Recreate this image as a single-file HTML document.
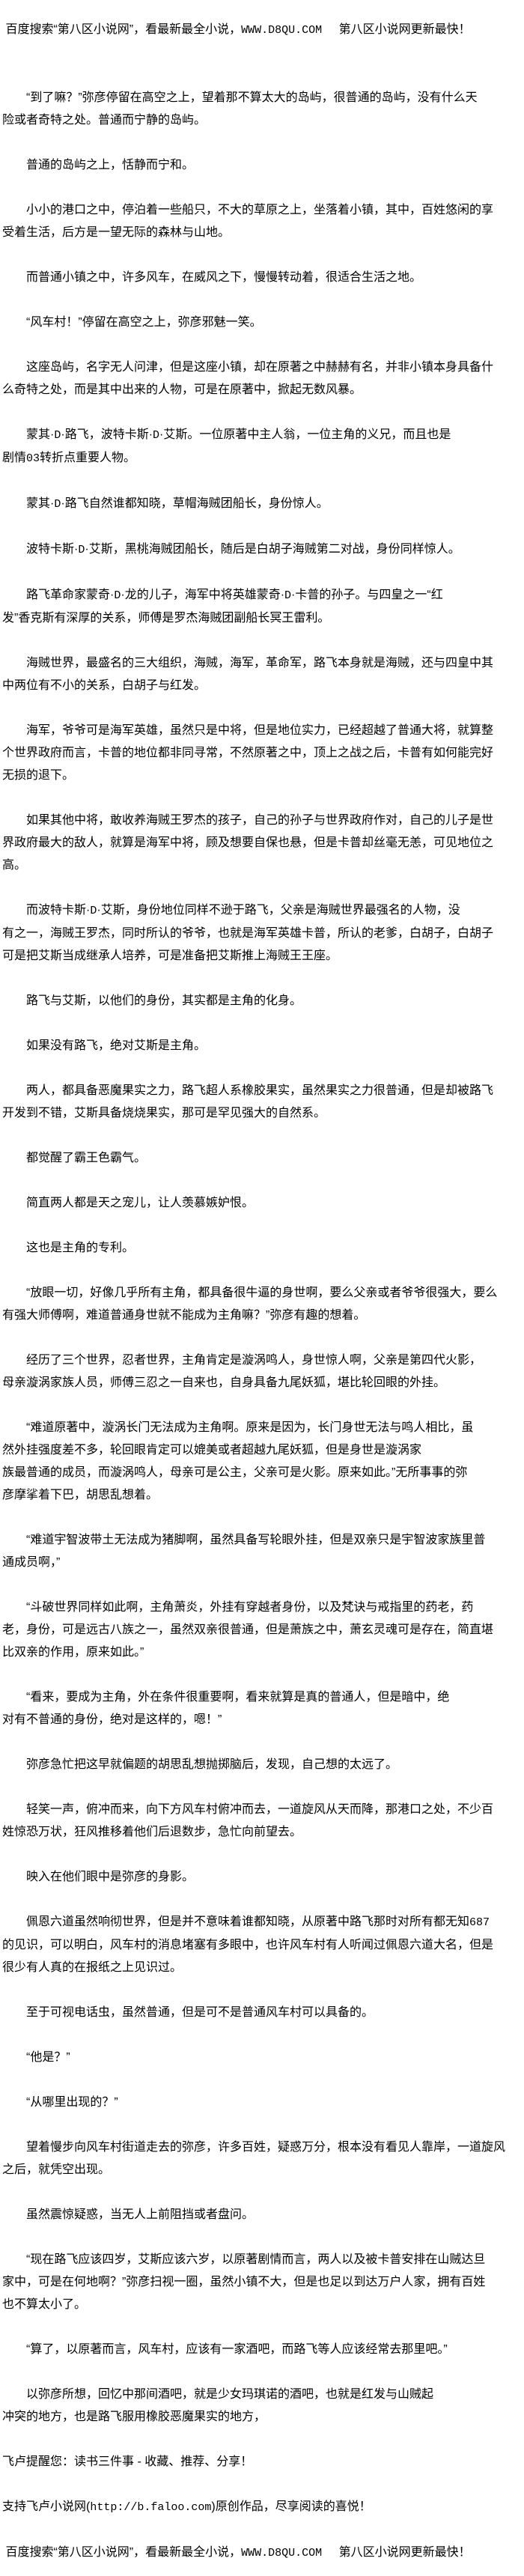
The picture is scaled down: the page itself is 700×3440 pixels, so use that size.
<!DOCTYPE html>
<html><head><meta charset="utf-8">
<style>
html,body{margin:0;padding:0;background:#fff;}
body{width:700px;height:3440px;overflow:hidden;}
#t{position:absolute;left:3px;top:25px;font-family:"Liberation Sans","Noto Sans CJK SC",sans-serif;font-size:16px;line-height:30px;color:#000;white-space:nowrap;}
.m{font-family:"Liberation Mono",monospace;font-size:15px;}
</style></head><body>
<div id="t">
&nbsp;百度搜索“第八区小说网”，看最新最全小说，<span class="m">WWW.D8QU.COM&nbsp;&nbsp;</span> 第八区小说网更新最快！<br><br><br>
　　“到了嘛？”弥彦停留在高空之上，望着那不算太大的岛屿，很普通的岛屿，没有什么天<br>险或者奇特之处。普通而宁静的岛屿。<br><br>
　　普通的岛屿之上，恬静而宁和。<br><br>
　　小小的港口之中，停泊着一些船只，不大的草原之上，坐落着小镇，其中，百姓悠闲的享<br>受着生活，后方是一望无际的森林与山地。<br><br>
　　而普通小镇之中，许多风车，在威风之下，慢慢转动着，很适合生活之地。<br><br>
　　“风车村！”停留在高空之上，弥彦邪魅一笑。<br><br>
　　这座岛屿，名字无人问津，但是这座小镇，却在原著之中赫赫有名，并非小镇本身具备什<br>么奇特之处，而是其中出来的人物，可是在原著中，掀起无数风暴。<br><br>
　　蒙其·<span class="m">D</span>·路飞，波特卡斯·<span class="m">D</span>·艾斯。一位原著中主人翁，一位主角的义兄，而且也是<br>剧情<span class="m">03</span>转折点重要人物。<br><br>
　　蒙其·<span class="m">D</span>·路飞自然谁都知晓，草帽海贼团船长，身份惊人。<br><br>
　　波特卡斯·<span class="m">D</span>·艾斯，黑桃海贼团船长，随后是白胡子海贼第二对战，身份同样惊人。<br><br>
　　路飞革命家蒙奇·<span class="m">D</span>·龙的儿子，海军中将英雄蒙奇·<span class="m">D</span>·卡普的孙子。与四皇之一“红<br>发”香克斯有深厚的关系，师傅是罗杰海贼团副船长冥王雷利。<br><br>
　　海贼世界，最盛名的三大组织，海贼，海军，革命军，路飞本身就是海贼，还与四皇中其<br>中两位有不小的关系，白胡子与红发。<br><br>
　　海军，爷爷可是海军英雄，虽然只是中将，但是地位实力，已经超越了普通大将，就算整<br>个世界政府而言，卡普的地位都非同寻常，不然原著之中，顶上之战之后，卡普有如何能完好<br>无损的退下。<br><br>
　　如果其他中将，敢收养海贼王罗杰的孩子，自己的孙子与世界政府作对，自己的儿子是世<br>界政府最大的敌人，就算是海军中将，顾及想要自保也悬，但是卡普却丝毫无恙，可见地位之<br>高。<br><br>
　　而波特卡斯·<span class="m">D</span>·艾斯，身份地位同样不逊于路飞，父亲是海贼世界最强名的人物，没<br>有之一，海贼王罗杰，同时所认的爷爷，也就是海军英雄卡普，所认的老爹，白胡子，白胡子<br>可是把艾斯当成继承人培养，可是准备把艾斯推上海贼王王座。<br><br>
　　路飞与艾斯，以他们的身份，其实都是主角的化身。<br><br>
　　如果没有路飞，绝对艾斯是主角。<br><br>
　　两人，都具备恶魔果实之力，路飞超人系橡胶果实，虽然果实之力很普通，但是却被路飞<br>开发到不错，艾斯具备烧烧果实，那可是罕见强大的自然系。<br><br>
　　都觉醒了霸王色霸气。<br><br>
　　简直两人都是天之宠儿，让人羡慕嫉妒恨。<br><br>
　　这也是主角的专利。<br><br>
　　“放眼一切，好像几乎所有主角，都具备很牛逼的身世啊，要么父亲或者爷爷很强大，要么<br>有强大师傅啊，难道普通身世就不能成为主角嘛？”弥彦有趣的想着。<br><br>
　　经历了三个世界，忍者世界，主角肯定是漩涡鸣人，身世惊人啊，父亲是第四代火影，<br>母亲漩涡家族人员，师傅三忍之一自来也，自身具备九尾妖狐，堪比轮回眼的外挂。<br><br>
　　“难道原著中，漩涡长门无法成为主角啊。原来是因为，长门身世无法与鸣人相比，虽<br>然外挂强度差不多，轮回眼肯定可以媲美或者超越九尾妖狐，但是身世是漩涡家<br>族最普通的成员，而漩涡鸣人，母亲可是公主，父亲可是火影。原来如此。”无所事事的弥<br>彦摩挲着下巴，胡思乱想着。<br><br>
　　“难道宇智波带土无法成为猪脚啊，虽然具备写轮眼外挂，但是双亲只是宇智波家族里普<br>通成员啊，”<br><br>
　　“斗破世界同样如此啊，主角萧炎，外挂有穿越者身份，以及梵诀与戒指里的药老，药<br>老，身份，可是远古八族之一，虽然双亲很普通，但是萧族之中，萧玄灵魂可是存在，简直堪<br>比双亲的作用，原来如此。”<br><br>
　　“看来，要成为主角，外在条件很重要啊，看来就算是真的普通人，但是暗中，绝<br>对有不普通的身份，绝对是这样的，嗯！”<br><br>
　　弥彦急忙把这早就偏题的胡思乱想抛掷脑后，发现，自己想的太远了。<br><br>
　　轻笑一声，俯冲而来，向下方风车村俯冲而去，一道旋风从天而降，那港口之处，不少百<br>姓惊恐万状，狂风推移着他们后退数步，急忙向前望去。<br><br>
　　映入在他们眼中是弥彦的身影。<br><br>
　　佩恩六道虽然响彻世界，但是并不意味着谁都知晓，从原著中路飞那时对所有都无知<span class="m">687</span><br>的见识，可以明白，风车村的消息堵塞有多眼中，也许风车村有人听闻过佩恩六道大名，但是<br>很少有人真的在报纸之上见识过。<br><br>
　　至于可视电话虫，虽然普通，但是可不是普通风车村可以具备的。<br><br>
　　“他是？”<br><br>
　　“从哪里出现的？”<br><br>
　　望着慢步向风车村街道走去的弥彦，许多百姓，疑惑万分，根本没有看见人靠岸，一道旋风<br>之后，就凭空出现。<br><br>
　　虽然震惊疑惑，当无人上前阻挡或者盘问。<br><br>
　　“现在路飞应该四岁，艾斯应该六岁，以原著剧情而言，两人以及被卡普安排在山贼达旦<br>家中，可是在何地啊？”弥彦扫视一圈，虽然小镇不大，但是也足以到达万户人家，拥有百姓<br>也不算太小了。<br><br>
　　“算了，以原著而言，风车村，应该有一家酒吧，而路飞等人应该经常去那里吧。”<br><br>
　　以弥彦所想，回忆中那间酒吧，就是少女玛琪诺的酒吧，也就是红发与山贼起<br>冲突的地方，也是路飞服用橡胶恶魔果实的地方，<br><br>
飞卢提醒您：读书三件事 - 收藏、推荐、分享！<br><br>
支持飞卢小说网(<span class="m">http://b.faloo.com</span>)原创作品，尽享阅读的喜悦！<br><br>
&nbsp;百度搜索“第八区小说网”，看最新最全小说，<span class="m">WWW.D8QU.COM&nbsp;&nbsp;</span> 第八区小说网更新最快！
</div>
</body></html>
